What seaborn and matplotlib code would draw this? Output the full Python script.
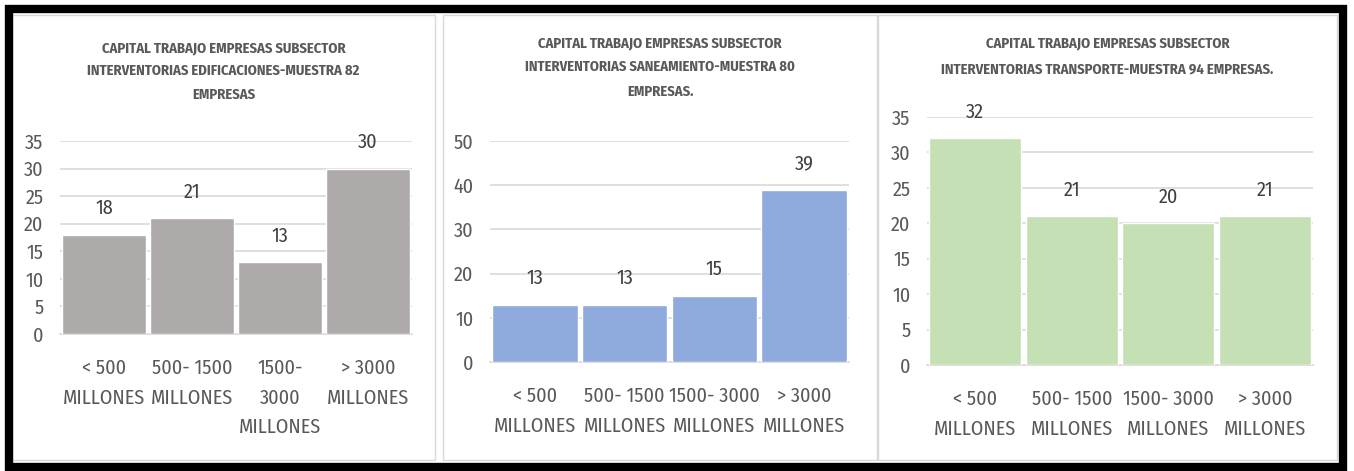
import matplotlib
matplotlib.use("Agg")

import matplotlib.pyplot as plt
import seaborn as sns
import pandas as pd
from matplotlib.patches import Rectangle

# data
categories_1 = ["< 500\nMILLONES", "500- 1500\nMILLONES", "1500-\n3000\nMILLONES", "> 3000\nMILLONES"]
categories_2 = ["< 500\nMILLONES", "500- 1500\nMILLONES", "1500- 3000\nMILLONES", "> 3000\nMILLONES"]
categories_3 = ["< 500\nMILLONES", "500- 1500\nMILLONES", "1500- 3000\nMILLONES", "> 3000\nMILLONES"]

edificaciones = [18, 21, 13, 30]
saneamiento = [13, 13, 15, 39]
transporte = [32, 21, 20, 21]

titles = [
    "CAPITAL TRABAJO EMPRESAS SUBSECTOR\nINTERVENTORIAS EDIFICACIONES-MUESTRA 82\nEMPRESAS",
    "CAPITAL TRABAJO EMPRESAS SUBSECTOR\nINTERVENTORIAS SANEAMIENTO-MUESTRA 80\nEMPRESAS.",
    "CAPITAL TRABAJO EMPRESAS SUBSECTOR\nINTERVENTORIAS TRANSPORTE-MUESTRA 94 EMPRESAS.",
]
y_ticks = [[0, 5, 10, 15, 20, 25, 30, 35], [0, 10, 20, 30, 40, 50], [0, 5, 10, 15, 20, 25, 30, 35]]
colors = ["#AEAAAA", "#8FAADC", "#C5E0B4"]

sns.set_theme(style="white")
plt.rcParams["font.family"] = ["Fira Sans Condensed", "DejaVu Sans"]

W, H = 1354, 471
fig = plt.figure(figsize=(W / 100, H / 100), dpi=100)

# panel boxes (pixels: x0, y0, x1, y1) and plot areas
panels = [(12, 15, 435, 460), (443, 15, 877, 460), (878, 15, 1337, 460)]
areas = [(60, 141, 412, 334), (490, 141, 849, 362), (927, 117, 1313, 365)]
title_tops = [41, 36, 36]
title_spacing = [1.8, 1.9, 2.05]

for x0, y0, x1, y1 in panels:
    fig.patches.append(Rectangle((x0 / W, 1 - y1 / H), (x1 - x0) / W, (y1 - y0) / H,
                                 transform=fig.transFigure, fill=False,
                                 edgecolor="#D9D9D9", linewidth=1))

data = [(categories_1, edificaciones), (categories_2, saneamiento), (categories_3, transporte)]

for i, (cats, vals) in enumerate(data):
    x0, y0, x1, y1 = areas[i]
    ax = fig.add_axes([x0 / W, 1 - y1 / H, (x1 - x0) / W, (y1 - y0) / H])
    df = pd.DataFrame({"cat": cats, "val": vals})
    sns.barplot(data=df, x="cat", y="val", color=colors[i], width=0.95,
                saturation=1, ax=ax, zorder=3)
    ax.set_ylim(0, max(y_ticks[i]))
    ax.set_yticks(y_ticks[i])
    ax.set_xlim(-0.5, len(cats) - 0.5)
    ax.grid(axis="y", color="#D9D9D9", linewidth=1.2, zorder=0)
    ax.set_axisbelow(True)
    for s in ["top", "right", "left"]:
        ax.spines[s].set_visible(False)
    ax.spines["bottom"].set_color("#D9D9D9")
    ax.set_xlabel("")
    ax.set_ylabel("")
    ax.tick_params(axis="x", length=0, pad=18, labelsize=14.5, labelcolor="#595959")
    ax.tick_params(axis="y", length=0, pad=12, labelsize=14.5, labelcolor="#595959")
    for lab in ax.get_xticklabels():
        lab.set_linespacing(1.62)
    for p in ax.patches:
        ax.annotate(f"{p.get_height():.0f}", (p.get_x() + p.get_width() / 2, p.get_height()),
                    xytext=(0, 19), textcoords="offset points", ha="center", va="center",
                    fontsize=14.5, color="#404040")

    px0, py0, px1, py1 = panels[i]
    fig.text((px0 + px1) / 2 / W, 1 - title_tops[i] / H, titles[i], ha="center", va="top",
             fontsize=10.5, fontweight="bold", color="#595959", linespacing=title_spacing[i])

# black screenshot frame
fig.patches.append(Rectangle((8.5 / W, 1 - 466.5 / H), 1334 / W, 458 / H,
                             transform=fig.transFigure, fill=False,
                             edgecolor="black", linewidth=6))

fig.savefig("out.png", dpi=100)
